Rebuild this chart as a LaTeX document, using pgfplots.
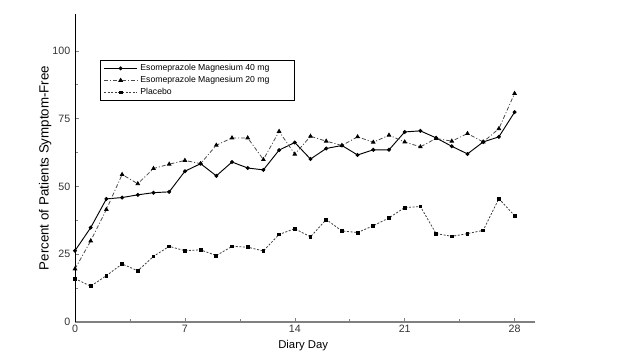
\documentclass[border=0pt]{standalone}
\usepackage{fontspec}
\setmainfont{Liberation Sans}
\usepackage{pgfplots}
\pgfplotsset{compat=1.18}
\begin{document}
\begin{tikzpicture}
\useasboundingbox (0,0) rectangle (480pt,267.75pt);
\begin{axis}[
  at={(56.25pt,26.25pt)}, anchor=south west,
  scale only axis, width=345pt, height=231pt,
  xmin=0, xmax=29.3, ymin=0, ymax=113.6,
  axis lines=left, axis line style={-},
  x axis line style={gray, line width=1.2pt},
  y axis line style={black, line width=0.7pt},
  xtick={0,7,14,21,28}, ytick={0,25,50,75,100},
  minor xtick={3.5,10.5,17.5,24.5}, minor ytick={12.5,37.5,62.5,87.5},
  tick align=inside, major tick length=3pt, minor tick length=2pt,
  tick style={gray, line width=0.4pt},
  /pgf/number format/assume math mode=true,
  ticklabel style={font=\fontsize{8}{9}\selectfont, text=black!80},
  xticklabel style={yshift=1pt},
  xlabel={Diary Day}, ylabel={Percent of Patients Symptom-Free},
  xlabel style={font=\fontsize{8.5}{10}\selectfont, at={(axis description cs:0.496,0)}, anchor=north, yshift=-10pt},
  ylabel style={font=\fontsize{10}{12}\selectfont, at={(axis description cs:-0.065,0.5)}, anchor=center},
  legend cell align=left,
  legend style={at={(axis description cs:0.054,0.851)}, anchor=north west,
    draw=black, line width=0.5pt, font=\fontsize{6.5}{7.5}\selectfont,
    inner xsep=2.5pt, inner ysep=1pt, row sep=-1.2pt},
  legend image code/.code={\draw[mark repeat=2,mark phase=2,#1] plot coordinates {(0pt,0pt) (12.5pt,0pt) (25pt,0pt)};},
  mark size=1.1pt,
]
\addplot[black, line width=0.7pt, mark=*, mark options={solid}] coordinates {
(0,26.3)(1,34.8)(2,45.4)(3,45.9)(4,46.9)(5,47.7)(6,48.0)(7,55.6)(8,58.4)(9,53.9)(10,59.0)(11,56.8)(12,56.1)(13,63.4)(14,66.2)
(15,60.1)(16,64.0)(17,65.1)(18,61.6)(19,63.5)(20,63.5)(21,70.1)(22,70.5)(23,67.9)(24,64.8)(25,62.0)(26,66.4)(27,68.3)(28,77.4)};
\addlegendentry{Esomeprazole Magnesium 40 mg}
\addplot[black!70, line width=0.6pt, dash pattern=on 3pt off 1.5pt on 0.8pt off 1.5pt, mark=triangle*, mark options={solid, fill=black, draw=black}, mark size=1.5pt] coordinates {
(0,19.6)(1,29.9)(2,41.5)(3,54.4)(4,51.0)(5,56.6)(6,58.2)(7,59.6)(8,58.4)(9,65.2)(10,67.9)(11,67.9)(12,59.9)(13,70.3)(14,61.9)
(15,68.5)(16,66.7)(17,65.1)(18,68.3)(19,66.3)(20,68.9)(21,66.4)(22,64.6)(23,67.7)(24,66.7)(25,69.5)(26,66.4)(27,71.3)(28,84.3)};
\addlegendentry{Esomeprazole Magnesium 20 mg\hspace*{14pt}}
\addplot[black!75, line width=0.6pt, dash pattern=on 1.5pt off 1.2pt, mark=square*, mark options={solid, fill=black, draw=black}, mark size=1.05pt] coordinates {
(0,16.0)(1,13.2)(2,17.1)(3,21.4)(4,18.9)(5,24.2)(6,27.9)(7,26.3)(8,26.6)(9,24.5)(10,27.9)(11,27.6)(12,26.2)(13,32.3)(14,34.4)
(15,31.4)(16,37.8)(17,33.6)(18,33.0)(19,35.5)(20,38.4)(21,42.2)(22,42.6)(23,32.6)(24,31.6)(25,32.6)(26,33.8)(27,45.5)(28,39.2)};
\addlegendentry{Placebo}
\end{axis}
\end{tikzpicture}
\end{document}
